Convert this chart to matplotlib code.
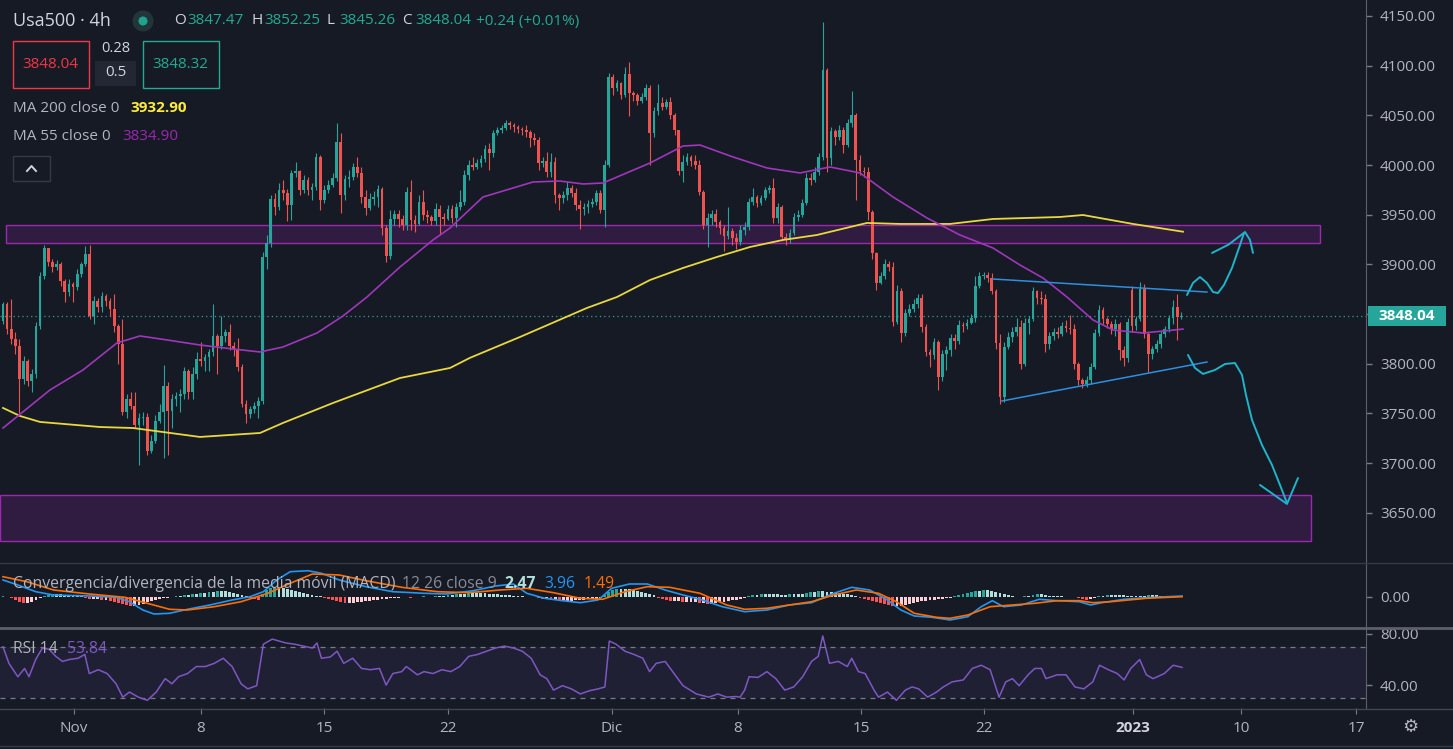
import matplotlib
matplotlib.use("Agg")
import matplotlib.pyplot as plt
import matplotlib.transforms as mtransforms
from matplotlib.patches import Rectangle, Ellipse
from matplotlib.lines import Line2D
import numpy as np

# ---------------- data (4h candles) ----------------
opens = [3843, 3860, 3835, 3825, 3818, 3785, 3803, 3783, 3790, 3838,
         3888, 3916, 3902, 3897, 3900, 3883, 3872, 3880, 3877, 3890,
         3900, 3910, 3848, 3863, 3857, 3868, 3863, 3855, 3838, 3820,
         3752, 3765, 3758, 3738, 3745, 3746, 3712, 3722, 3742, 3752,
         3778, 3753, 3765, 3768, 3770, 3793, 3772, 3790, 3805, 3803,
         3807, 3812, 3828, 3818, 3828, 3832, 3818, 3815, 3797, 3760,
         3749, 3755, 3758, 3763, 3907, 3922, 3966, 3958, 3975, 3972,
         3960, 3992, 3994, 3975, 3985, 3975, 3978, 4008, 3965, 3975,
         3980, 3987, 4023, 3970, 3986, 3988, 3998, 3992, 3968, 3957,
         3966, 3968, 3976, 3937, 3908, 3946, 3951, 3946, 3940, 3973,
         3945, 3941, 3963, 3950, 3948, 3944, 3956, 3948, 3946, 3956,
         3947, 3958, 3963, 3990, 4000, 3998, 4002, 4006, 4016, 4012,
         4032, 4035, 4037, 4042, 4040, 4038, 4036, 4035, 4033, 4027,
         4025, 4002, 4004, 3993, 4003, 3970, 3967, 3970, 3977, 3972,
         3960, 3956, 3958, 3961, 3963, 3972, 3955, 4000, 4089, 4077,
         4082, 4070, 4092, 4072, 4070, 4064, 4068, 4077, 4032, 4054,
         4062, 4058, 4063, 4050, 4035, 3994, 4003, 4008, 4004, 4000,
         3973, 3940, 3947, 3951, 3943, 3937, 3929, 3934, 3927, 3923,
         3935, 3938, 3963, 3968, 3962, 3967, 3975, 3977, 3947, 3958,
         3928, 3925, 3932, 3948, 3950, 3962, 3987, 3985, 3993, 4008,
         4096, 4007, 4034, 4028, 4035, 4020, 4042, 4050, 4005, 3994,
         3993, 3953, 3911, 3881, 3888, 3900, 3897, 3842, 3873, 3831,
         3851, 3855, 3860, 3866, 3837, 3812, 3809, 3822, 3787, 3810,
         3814, 3826, 3823, 3839, 3838, 3841, 3846, 3878, 3888, 3889,
         3886, 3873, 3821, 3767, 3817, 3827, 3832, 3837, 3800, 3841,
         3845, 3873, 3866, 3865, 3820, 3828, 3832, 3830, 3838, 3836,
         3835, 3800, 3784, 3780, 3784, 3797, 3831, 3854, 3845, 3840,
         3835, 3840, 3814, 3806, 3874, 3838, 3845, 3875, 3830, 3810,
         3815, 3820, 3830, 3835, 3846, 3857, 3847.47]
highs = [3862, 3862, 3865, 3832, 3825, 3808, 3805, 3795, 3842, 3892,
         3920, 3917, 3905, 3904, 3902, 3885, 3885, 3882, 3895, 3902,
         3919, 3920, 3868, 3866, 3872, 3870, 3866, 3870, 3840, 3845,
         3770, 3772, 3772, 3750, 3752, 3750, 3728, 3748, 3760, 3799,
         3782, 3770, 3772, 3775, 3797, 3795, 3797, 3812, 3822, 3810,
         3815, 3860, 3830, 3848, 3835, 3840, 3822, 3826, 3800, 3764,
         3758, 3762, 3767, 3912, 3930, 3970, 3972, 3982, 3985, 3976,
         3995, 4003, 3995, 3990, 3988, 3982, 4012, 4010, 3980, 3985,
         3992, 4042, 4032, 3990, 3995, 4002, 4008, 3998, 3975, 3972,
         3974, 3980, 3978, 3940, 3955, 3955, 3955, 3950, 3978, 3985,
         3950, 3970, 3975, 3955, 3950, 3962, 3960, 3952, 3960, 3960,
         3962, 3975, 3995, 4005, 4008, 4006, 4010, 4020, 4022, 4035,
         4038, 4040, 4045, 4044, 4042, 4040, 4038, 4040, 4035, 4032,
         4028, 4008, 4013, 4012, 4008, 3972, 3974, 3983, 3980, 3977,
         3965, 3962, 3965, 3967, 3975, 3975, 4005, 4093, 4092, 4086,
         4084, 4099, 4104, 4074, 4072, 4072, 4081, 4080, 4058, 4081,
         4068, 4066, 4068, 4052, 4035, 4010, 4012, 4010, 4010, 4005,
         3975, 3952, 3955, 3956, 3945, 3940, 3958, 3937, 3932, 3940,
         3943, 3967, 3977, 3970, 3970, 3978, 3980, 3987, 3962, 3960,
         3932, 3936, 3952, 3955, 3966, 3992, 3992, 3998, 4012, 4144,
         4098, 4038, 4036, 4040, 4038, 4046, 4074, 4052, 4010, 3998,
         3998, 3955, 3912, 3892, 3905, 3903, 3902, 3879, 3876, 3855,
         3860, 3865, 3870, 3870, 3840, 3815, 3826, 3824, 3814, 3818,
         3830, 3830, 3844, 3842, 3845, 3850, 3888, 3892, 3892, 3892,
         3891, 3875, 3830, 3822, 3832, 3837, 3846, 3844, 3846, 3848,
         3877, 3874, 3873, 3870, 3832, 3836, 3837, 3842, 3844, 3849,
         3840, 3802, 3786, 3788, 3801, 3835, 3859, 3857, 3847, 3843,
         3845, 3842, 3818, 3846, 3878, 3848, 3882, 3880, 3832, 3818,
         3824, 3833, 3838, 3849, 3864, 3870, 3852.25]
lows = [3840, 3830, 3820, 3810, 3750, 3780, 3778, 3772, 3786, 3835,
        3885, 3898, 3892, 3894, 3878, 3862, 3868, 3862, 3874, 3887,
        3898, 3845, 3840, 3852, 3852, 3858, 3848, 3832, 3800, 3748,
        3745, 3755, 3735, 3698, 3738, 3708, 3710, 3720, 3740, 3705,
        3708, 3735, 3758, 3752, 3765, 3765, 3765, 3785, 3798, 3793,
        3793, 3808, 3790, 3815, 3822, 3814, 3808, 3793, 3757, 3740,
        3745, 3750, 3745, 3760, 3895, 3918, 3950, 3955, 3965, 3944,
        3945, 3988, 3970, 3972, 3970, 3965, 3975, 3955, 3962, 3972,
        3978, 3984, 3952, 3965, 3978, 3985, 3988, 3962, 3950, 3955,
        3960, 3958, 3930, 3902, 3905, 3940, 3938, 3935, 3935, 3935,
        3933, 3940, 3945, 3942, 3940, 3940, 3930, 3940, 3945, 3942,
        3938, 3955, 3960, 3985, 3995, 3996, 3998, 4003, 3995, 4008,
        4030, 4032, 4035, 4036, 4033, 4032, 4030, 4028, 4018, 4020,
        3995, 3998, 3988, 3988, 3962, 3955, 3962, 3965, 3968, 3955,
        3936, 3950, 3952, 3958, 3960, 3952, 3938, 3998, 4070, 4074,
        4066, 4068, 4049, 4064, 4060, 4062, 4065, 4000, 4028, 4050,
        4055, 4056, 4046, 4030, 3990, 3983, 4000, 3999, 3996, 3970,
        3936, 3918, 3940, 3938, 3931, 3913, 3926, 3920, 3915, 3920,
        3930, 3935, 3960, 3958, 3960, 3965, 3972, 3942, 3942, 3924,
        3920, 3922, 3930, 3944, 3948, 3960, 3980, 3983, 3990, 4005,
        3993, 4000, 4020, 4025, 4012, 4018, 4038, 3965, 3990, 3988,
        3945, 3905, 3874, 3880, 3885, 3893, 3838, 3840, 3822, 3828,
        3848, 3852, 3856, 3832, 3808, 3797, 3805, 3774, 3783, 3794,
        3808, 3815, 3820, 3832, 3835, 3840, 3842, 3876, 3885, 3882,
        3870, 3815, 3760, 3762, 3815, 3822, 3828, 3795, 3798, 3830,
        3843, 3860, 3860, 3812, 3815, 3824, 3826, 3828, 3832, 3830,
        3795, 3779, 3776, 3777, 3780, 3795, 3828, 3840, 3836, 3830,
        3828, 3804, 3798, 3802, 3832, 3834, 3843, 3826, 3792, 3805,
        3812, 3816, 3827, 3832, 3840, 3824, 3845.26]
closes = [3860, 3835, 3825, 3818, 3785, 3803, 3783, 3790, 3838, 3888,
          3916, 3902, 3897, 3900, 3883, 3872, 3880, 3877, 3890, 3900,
          3910, 3848, 3863, 3857, 3868, 3863, 3855, 3838, 3820, 3752,
          3765, 3758, 3738, 3745, 3746, 3712, 3722, 3742, 3752, 3778,
          3753, 3765, 3768, 3770, 3793, 3772, 3790, 3805, 3803, 3807,
          3812, 3828, 3818, 3828, 3832, 3818, 3815, 3797, 3760, 3749,
          3755, 3758, 3763, 3907, 3922, 3966, 3958, 3975, 3972, 3960,
          3992, 3994, 3975, 3985, 3975, 3978, 4008, 3965, 3975, 3980,
          3987, 4023, 3970, 3986, 3988, 3998, 3992, 3968, 3957, 3966,
          3968, 3976, 3937, 3908, 3946, 3951, 3946, 3940, 3973, 3945,
          3941, 3963, 3950, 3948, 3944, 3956, 3948, 3946, 3956, 3947,
          3958, 3963, 3990, 4000, 3998, 4002, 4006, 4016, 4012, 4032,
          4035, 4037, 4042, 4040, 4038, 4036, 4035, 4033, 4027, 4025,
          4002, 4004, 3993, 4003, 3970, 3967, 3970, 3977, 3972, 3960,
          3956, 3958, 3961, 3963, 3972, 3955, 4000, 4089, 4077, 4082,
          4070, 4092, 4072, 4070, 4064, 4068, 4077, 4032, 4054, 4062,
          4058, 4063, 4050, 4035, 3994, 4003, 4008, 4004, 4000, 3973,
          3940, 3947, 3951, 3943, 3937, 3929, 3934, 3927, 3923, 3935,
          3938, 3963, 3968, 3962, 3967, 3975, 3977, 3947, 3958, 3928,
          3925, 3932, 3948, 3950, 3962, 3987, 3985, 3993, 4008, 4096,
          4007, 4034, 4028, 4035, 4020, 4042, 4050, 4005, 3994, 3993,
          3953, 3911, 3881, 3888, 3900, 3897, 3842, 3873, 3831, 3851,
          3855, 3860, 3866, 3837, 3812, 3809, 3822, 3787, 3810, 3814,
          3826, 3823, 3839, 3838, 3841, 3846, 3878, 3888, 3889, 3886,
          3873, 3821, 3767, 3817, 3827, 3832, 3837, 3800, 3841, 3845,
          3873, 3866, 3865, 3820, 3828, 3832, 3830, 3838, 3836, 3835,
          3800, 3784, 3780, 3784, 3797, 3831, 3854, 3845, 3840, 3835,
          3840, 3814, 3806, 3842, 3838, 3845, 3875, 3830, 3810, 3815,
          3820, 3830, 3835, 3846, 3857, 3847, 3848.04]

# moving averages (bar position, price)
ma200_x = [0, 4.13, 8.98, 23.54, 31.55, 47.82, 62.38, 67.96, 80.10, 96.36,
           108.50, 113.35, 125.49, 141.75, 149.03, 157.04, 165.05, 173.30, 181.31, 189.32,
           197.57, 205.58, 209.71, 217.72, 229.85, 240.29, 256.55, 262.14, 274.27, 286.41]
ma200_y = [3755.6, 3747.5, 3741.5, 3736.4, 3735.4, 3726.4, 3730.4, 3740.5, 3760.6, 3785.7,
           3795.8, 3806.0, 3827.0, 3856.2, 3867.2, 3884.3, 3896.4, 3907.5, 3917.5, 3924.6,
           3929.6, 3937.6, 3941.7, 3940.7, 3940.7, 3945.7, 3947.7, 3949.7, 3940.7, 3932.9]
ma55_x = [0, 11.41, 19.42, 27.67, 33.25, 39.81, 47.82, 55.83, 62.38, 67.96,
          76.21, 82.52, 88.35, 96.36, 104.37, 108.50, 116.50, 128.64, 135.19, 140.78,
          145.63, 157.04, 165.05, 169.17, 177.18, 185.44, 193.45, 200.73, 208.01, 216.02,
          224.27, 232.28, 240.29, 246.84, 252.43, 258.25, 264.56, 269.42, 276.70, 286.41]
ma55_y = [3735.4, 3773.7, 3793.8, 3821.0, 3828.0, 3824.0, 3818.9, 3814.9, 3811.9, 3816.9,
          3831.0, 3848.1, 3867.2, 3897.4, 3924.6, 3936.6, 3967.8, 3982.9, 3983.9, 3980.9,
          3981.9, 4002.0, 4019.1, 4020.1, 4008.1, 3997.0, 3992.0, 3998.0, 3992.0, 3967.8,
          3946.7, 3929.6, 3916.5, 3899.4, 3886.3, 3867.2, 3844.1, 3834.0, 3831.0, 3834.9]

# MACD (12, 26, 9)
macd_hist = [1, 0,
             -1, -3, -5, -6, -6, -5, -3, -1,
             1, 2, 3, 3, 3, 2, 2, 2, 1, 1,
             -1, -2, -2, -2, -3, -3,
             -4, -5, -6, -7, -8, -9, -9, -8, -7, -5,
             -4, -3, -2, -1, -1, 0, 1,
             1, 2, 2, 3, 3, 4, 4, 5, 5, 6, 6, 6, 5, 4, 3, 2, 1,
             -1, -2, -3,
             3, 7, 9, 10, 10, 9, 8, 7, 6, 5, 4, 3, 2, 1, 1,
             -1, -2, -3, -4, -5, -6, -6, -6, -5, -5, -4, -4, -3, -3, -2, -2, -1, -1, -1, 0,
             0, -1, 0, 0, 1, 0, 0, 1, 1, 1,
             2, 2, 3, 3, 3, 4, 4, 4, 4, 4, 3, 3, 3, 2, 2, 2,
             1, 1, 1, 0, 0, 0,
             -1, -2, -2, -3, -3, -4, -4, -4, -4, -3, -3, -3, -2, -2, -2, -1,
             2, 5, 7, 8, 8, 8, 8, 7, 6, 5, 4, 3, 2,
             -1, -2, -3, -4, -4, -4, -5, -5, -5, -5, -6,
             -6, -7, -7, -6, -5, -5, -4, -3, -3, -2, -1,
             1, 2, 2, 3, 3, 3, 3, 3, 2, 2, 3, 3, 3, 3,
             4, 5, 5, 6, 6, 5, 5, 4, 4, 3, 3, 2, 1,
             -1, -2, -3, -4, -5, -6, -7, -8, -9, -9, -9, -8, -7, -6,
             -5, -4, -4, -3, -3, -2, -2, -1, -1,
             1, 2, 3, 4, 5, 6, 6, 7, 7, 6, 5, 4,
             3, 2, 1, 0, 0, 1, 1,
             2, 3, 3, 2,
             1, 1, 1, 1, 0, 0, 0,
             -1, -2, -3, -2, -1,
             1, 1, 2, 2, 2, 2, 2, 1, 1, 1, 1, 1, 2, 2, 2, 1, 1, 1, 1, 1, 1]
macd_x = [0, 3.6, 7.94, 12.27, 20.94, 27.44, 30.69, 33.94, 36.65, 40.44,
          44.78, 50.2, 55.61, 59.95, 63.2, 66.45, 69.7, 74.03, 77.29, 81.62,
          88.12, 94.62, 102.2, 107.62, 114.12, 119.54, 123.88, 127.13, 131.46, 135.8,
          140.13, 144.46, 147.72, 152.05, 156.38, 160.72, 165.05, 169.17,
          174.59, 180.01, 185.42, 190.84, 196.26, 201.68, 206.01, 210.35, 214.68, 217.93,
          221.18, 225.51, 229.85, 234.18, 237.43, 240.14, 242.85, 247.19, 251.52, 255.85,
          261.27, 263.98, 266.69, 272.11, 277.52, 286.19]
macd_y = [17, 12, 5.3, 2, 1, -0.3, -4.7, -13, -17, -16.3,
          -12.3, -8, -3, 0.3, 5.3, 17, 25.3, 26.3, 23.7, 17,
          10.3, 5.3, 3.7, 3, 6.3, 11, 13, 3.7, -1.3, -3.7,
          -5.7, -3, 8.7, 13, 13, 7, 2, -2.3,
          -9.7, -14.7, -13, -8, -5.7, 3.7, 9.7, 7, -3, -13,
          -19, -20.3, -23, -19.7, -9.7, -3.7, -9.7, -8, -2.3, -3.7,
          -4.7, -8, -5.7, -2.3, -0.7, 1]
signal_x = [0, 5.77, 12.27, 20.94, 29.61, 35.03, 40.44, 44.78, 51.28, 57.78,
            64.28, 69.7, 75.12, 81.62, 88.12, 96.79, 105.46, 113.04, 120.63, 127.13,
            133.63, 140.13, 145.55, 150.97, 156.38, 161.8, 169.17,
            175.67, 180.01, 185.42, 190.84, 196.26, 201.68, 207.09, 212.51, 216.85, 221.18,
            226.6, 229.85, 234.18, 239.6, 245.02, 250.44, 255.85, 261.27, 264.52, 268.86,
            277.52, 286.19]
signal_y = [20.3, 15.3, 7, 3, -0.3, -6.3, -12.3, -13, -9.7, -4.7,
            3.7, 13.7, 23, 22, 16.3, 9.7, 5.3, 4.3, 7, 8.7,
            4.3, -1.3, -2.3, 5.3, 10.3, 9.7, 3.7,
            -8, -12.3, -11.3, -8, -4.7, 2, 7, 3.7, -4.7, -16.3,
            -20.3, -21.3, -18, -9.7, -8, -6.3, -3.7, -3.7, -5.7, -4.7,
            -1.3, 0.3]

# RSI 14
rsi_x = [0, 1.44, 3.6, 5.23, 6.31, 7.94, 9.56, 11.19, 12.81, 14.44,
         16.06, 18.23, 19.86, 20.94, 23.11, 25.28, 27.44, 29.07, 30.69, 32.86,
         35.03, 37.19, 39.36, 40.99, 42.61, 44.78, 46.95, 49.11, 51.28, 53.45,
         55.61, 57.78, 59.41, 61.57, 63.2, 65.37, 66.99, 68.62, 70.78, 72.95,
         75.12, 76.2, 77.29, 79.45, 81.08, 82.7, 84.87, 87.04, 89.2, 91.37,
         92.99, 94.62, 96.79, 97.87, 98.95, 100.58, 102.2, 104.37, 106.54, 108.71,
         110.87, 113.04, 115.21, 117.38, 119.54, 121.71, 123.88, 126.05, 128.21, 130.38,
         132.0, 133.63, 135.8, 137.96, 140.13, 142.3, 144.46, 146.09, 147.17, 148.8,
         150.97, 153.13, 155.3, 156.93, 158.55, 160.72, 162.89, 165.05, 168.3,
         171.34, 173.5, 175.67, 177.84, 178.92, 180.01, 181.09, 183.26, 185.42, 187.59,
         189.76, 191.92, 194.09, 196.26, 197.88, 198.97, 200.59, 202.76, 204.93, 206.01,
         207.64, 209.26, 211.43, 212.51, 214.68, 216.85, 219.01, 220.64, 222.26, 224.43,
         226.6, 228.22, 230.39, 233.1, 235.27, 237.43, 239.6, 241.77, 243.39, 245.02,
         246.64, 248.81, 250.44, 252.06, 253.15, 255.85, 258.02, 260.19, 262.35, 264.52,
         266.15, 268.31, 270.48, 272.11, 273.73, 275.9, 277.52, 279.15, 281.86, 284.02,
         286.19]
rsi_y = [70, 57, 46.5, 53, 46.5, 60, 69, 68, 62.5, 58.5,
         60, 61, 64, 49, 52, 49, 41, 30.5, 34.5, 30.5,
         28, 34.5, 45, 41, 46.5, 49, 54.5, 54.5, 57, 61,
         54.5, 41, 37, 39.5, 72, 76, 74.5, 73, 72, 70.5,
         69, 73, 61, 62, 66.5, 57, 61, 53, 52, 53,
         40, 49, 50.5, 54.5, 52, 48, 50.5, 49, 52, 50.5,
         54.5, 62.5, 64, 66.5, 69, 70.5, 69, 66.5, 61, 48,
         45, 36, 39.5, 37, 33, 35.5, 37, 38.5, 74.5, 72,
         66.5, 64, 61, 50.5, 57, 58.5, 49, 39.5, 33,
         30.5, 33, 30.5, 31, 30.5, 36, 46.5, 46, 50.5, 45,
         36, 38.5, 46.5, 58.5, 62.5, 78.5, 57, 58.5, 54.5, 61,
         50.5, 49, 36, 30.5, 34.5, 28, 36, 38.5, 37, 30.5,
         34.5, 38.5, 42.5, 44, 53, 55.5, 52, 30.5, 42.5, 45,
         39.5, 48, 53, 53, 45, 48, 48, 38.5, 37, 42.5,
         55.5, 52, 49, 44, 53, 60, 48, 45, 49, 55.5,
         53.84]

# zones and drawings (bar position, price)
resist_zone = (0.73, 319.66, 3921.6, 3939.7)
support_zone = (-0.73, 317.48, 3622.0, 3668.0)
tri_upper_x = [240.29, 292.23]
tri_upper_y = [3885.3, 3872.2]
tri_lower_x = [242.48, 292.23]
tri_lower_y = [3762.6, 3801.8]
up_path_x = [287.38, 288.83, 290.53, 292.23, 293.69, 294.90, 296.36, 298.30, 300.24, 301.21]
up_path_y = [3869.2, 3881.3, 3887.3, 3881.3, 3872.2, 3871.2, 3879.3, 3896.4, 3919.5, 3931.6]
up_head_x = [293.45, 297.5, 301.46, 302.67, 303.40]
up_head_y = [3911.5, 3920.0, 3932.6, 3924.6, 3911.5]
down_path_x = [287.62, 289.32, 291.26, 294.17, 296.60, 299.03, 300.73, 301.70, 303.16,
               305.58, 308.01, 309.95, 311.65]
down_path_y = [3808.9, 3795.8, 3789.8, 3793.8, 3799.8, 3800.8, 3788.8, 3768.6, 3743.5,
               3718.3, 3698.2, 3678.1, 3660.0]
down_head_x = [305.10, 311.65, 314.32]
down_head_y = [3678.1, 3659.0, 3685.1]

price_ticks = [3650, 3700, 3750, 3800, 3850, 3900, 3950, 4000, 4050, 4100, 4150]
date_pos = [17.23, 48.06, 77.91, 108.01, 147.82, 178.40, 208.25, 238.11, 274.27, 300.49, 328.40]
date_labels = ["Nov", "8", "15", "22", "Dic", "8", "15", "22", "2023", "10", "17"]

# ---------------- styling ----------------
W, H = 1453, 749
BG = "#161a25"
UP, DN = "#26a69a", "#ef5350"
TXT = "#b2b5be"
FONT = ["Open Sans", "DejaVu Sans"]
XMIN, XMAX = -0.728, 330.83

fig = plt.figure(figsize=(W / 100, H / 100), dpi=100)
fig.patch.set_facecolor(BG)


def frect(x0, y0, x1, y1):
    return [x0 / W, 1 - y1 / H, (x1 - x0) / W, (y1 - y0) / H]


def T(x, y, s, color, size, weight="normal", ha="left", family=None):
    fig.text(x / W, 1 - y / H, s, color=color, fontsize=size, fontweight=weight,
             ha=ha, va="center", family=family or FONT)


ax = fig.add_axes(frect(0, 0, 1366, 562))
axm = fig.add_axes(frect(0, 563, 1366, 627))
axr = fig.add_axes(frect(0, 628, 1366, 708))

for a in (ax, axm, axr):
    a.set_facecolor(BG)
    for s in a.spines.values():
        s.set_visible(False)
    a.spines["right"].set_visible(True)
    a.spines["right"].set_color("#5d606b")
    a.yaxis.tick_right()
    a.tick_params(axis="y", color="#787b86", labelcolor=TXT, length=4, pad=6,
                  labelsize=11, width=1)
    a.set_xlim(XMIN, XMAX)

ax.tick_params(axis="x", bottom=False, labelbottom=False)
axm.tick_params(axis="x", bottom=False, labelbottom=False)

# ---- main price panel ----
ax.set_ylim(3600.6, 4166.0)
for (x0, x1, p0, p1) in (resist_zone, support_zone):
    ax.add_patch(Rectangle((x0, p0), x1 - x0, p1 - p0,
                           facecolor=(156 / 255, 39 / 255, 176 / 255, 0.2),
                           edgecolor="#9c27b0", linewidth=1.0, zorder=1))

idx = np.arange(len(closes))
o = np.array(opens, float)
c = np.array(closes, float)
col = np.where(c >= o, UP, DN)
ax.vlines(idx, lows, highs, colors=col, linewidth=0.8, zorder=3)
ax.bar(idx, np.maximum(np.abs(c - o), 0.7), bottom=np.minimum(o, c), width=0.66,
       color=col, linewidth=0, zorder=4)

ax.plot(ma200_x, ma200_y, color="#e9d83c", linewidth=1.3, zorder=5,
        solid_joinstyle="round")
ax.plot(ma55_x, ma55_y, color="#9f36bb", linewidth=1.2, zorder=5,
        solid_joinstyle="round")

ax.plot(tri_upper_x, tri_upper_y, color="#2e8ee0", linewidth=1.1, zorder=6)
ax.plot(tri_lower_x, tri_lower_y, color="#2e8ee0", linewidth=1.1, zorder=6)
for xs, ys in ((up_path_x, up_path_y), (up_head_x, up_head_y),
               (down_path_x, down_path_y), (down_head_x, down_head_y)):
    ax.plot(xs, ys, color="#1db4cc", linewidth=1.4, zorder=6,
            solid_capstyle="round", solid_joinstyle="round")

last = closes[-1]
ax.axhline(last, color=UP, linewidth=0.9, linestyle=(0, (1, 2.5)), zorder=2)

ax.set_yticks(price_ticks)
ax.set_yticklabels([f"{v:.2f}" for v in price_ticks], family=FONT)

trans = mtransforms.blended_transform_factory(ax.transAxes, ax.transData)
ax.add_patch(Rectangle((1 + 2 / 1366, last - 10.05), 78 / 1366, 20.1, transform=trans,
                       facecolor=UP, edgecolor="none", clip_on=False, zorder=10))
ax.text(1 + 41 / 1366, last, f"{last:.2f}", transform=trans, ha="center", va="center",
        color="white", fontsize=11, fontweight="bold", family=FONT, clip_on=False, zorder=11)

# ---- MACD panel ----
axm.set_ylim(-30, 34)
hist = np.array(macd_hist, float)
prev = np.concatenate([[0.0], hist[:-1]])
hcol = np.where(hist >= 0, np.where(hist > prev, "#26a69a", "#b2dfdb"),
                np.where(hist < prev, "#ff5252", "#ffcdd2"))
axm.bar(np.arange(len(hist)), hist, width=0.7, color=hcol, linewidth=0, zorder=2)
axm.plot(macd_x, macd_y, color="#2196f3", linewidth=1.2, zorder=3)
axm.plot(signal_x, signal_y, color="#ff6d00", linewidth=1.2, zorder=3)
axm.set_yticks([0])
axm.set_yticklabels(["0.00"], family=FONT)

# ---- RSI panel ----
axr.set_ylim(22.0, 84.7)
axr.axhspan(30, 70, color=(126 / 255, 87 / 255, 194 / 255, 0.1), zorder=1, linewidth=0)
for lvl in (70, 30):
    axr.axhline(lvl, color="#787b86", linewidth=0.9, linestyle=(0, (4, 4)), zorder=2)
axr.plot(rsi_x, rsi_y, color="#7e57c2", linewidth=1.1, zorder=3)
axr.set_yticks([40, 80])
axr.set_yticklabels(["40.00", "80.00"], family=FONT)

axr.set_xticks(date_pos)
axr.set_xticklabels(date_labels, family=FONT)
axr.tick_params(axis="x", bottom=True, labelbottom=True, direction="out", length=4,
                color="#787b86", labelcolor=TXT, labelsize=11, pad=5.5)
for lab in axr.get_xticklabels():
    if lab.get_text() == "2023":
        lab.set_fontweight("bold")
        lab.set_color("#d1d4dc")

# separators
for yy, cc, lw in ((562.5, "#363a45", 1.0), (627.5, "#5d606b", 2.0),
                   (708.5, "#434651", 1.0), (745.5, "#363a45", 1.0)):
    fig.add_artist(Line2D([0, 1], [1 - yy / H, 1 - yy / H], transform=fig.transFigure,
                          color=cc, linewidth=lw))

T(1410, 727, "\u2699", TXT, 13, ha="center", family=["DejaVu Sans", "Noto Sans"])

# ---- header / legends ----
T(13, 21, "Usa500 \u00b7 4h", "#d1d4dc", 13)
fig.add_artist(Ellipse((143 / W, 1 - 21 / H), 21 / W, 21 / H, transform=fig.transFigure,
                       facecolor="#22363a", edgecolor="none"))
fig.add_artist(Ellipse((143 / W, 1 - 21 / H), 9 / W, 9 / H, transform=fig.transFigure,
                       facecolor="#1fa38f", edgecolor="none"))
for x, s, cc in ((174, "O", "#d1d4dc"), (187, "3847.47", "#22ab94"),
                 (251, "H", "#d1d4dc"), (264, "3852.25", "#22ab94"),
                 (327, "L", "#d1d4dc"), (339, "3845.26", "#22ab94"),
                 (402, "C", "#d1d4dc"), (415, "3848.04", "#22ab94"),
                 (476, "+0.24 (+0.01%)", "#22ab94")):
    T(x, 21, s, cc, 11)

fig.add_artist(Rectangle((12.5 / W, 1 - 87.5 / H), 76 / W, 46.5 / H, transform=fig.transFigure,
                         facecolor=BG, edgecolor="#f23645", linewidth=1.0))
T(50.5, 64, "3848.04", "#f23645", 11, ha="center")
fig.add_artist(Rectangle((142.5 / W, 1 - 87.5 / H), 76 / W, 46.5 / H, transform=fig.transFigure,
                         facecolor=BG, edgecolor="#22ab94", linewidth=1.0))
T(180.5, 64, "3848.32", "#22ab94", 11, ha="center")
T(116, 48, "0.28", "#d1d4dc", 10.5, ha="center")
fig.add_artist(Rectangle((95 / W, 1 - 86 / H), 41 / W, 25 / H, transform=fig.transFigure,
                         facecolor="#232733", edgecolor="none"))
T(115.5, 73, "0.5", "#d1d4dc", 11, ha="center")

T(13, 108, "MA 200 close 0", TXT, 11)
T(130, 108, "3932.90", "#ffeb3b", 11, weight="bold")
T(13, 137, "MA 55 close 0", TXT, 11)
T(122, 137, "3834.90", "#9c27b0", 11)

fig.add_artist(Rectangle((13 / W, 1 - 180.5 / H), 37 / W, 24 / H, transform=fig.transFigure,
                         facecolor=BG, edgecolor="#363a45", linewidth=1.0))
fig.add_artist(Line2D([27 / W, 31.5 / W, 36 / W], [1 - 171 / H, 1 - 166 / H, 1 - 171 / H],
                      transform=fig.transFigure, color="#d1d4dc", linewidth=1.4))

T(13, 584, "Convergencia/divergencia de la media m\u00f3vil (MACD)", TXT, 11.3)
T(402, 584, "12 26 close 9", "#8a8d96", 11.3)
T(504, 584, "2.47", "#b2dfdb", 11.3, weight="bold")
T(544, 584, "3.96", "#2196f3", 11.3)
T(584, 584, "1.49", "#ff6d00", 11.3)

T(13, 649, "RSI 14", TXT, 11.3)
T(67, 649, "53.84", "#7e57c2", 11.3)

fig.savefig("out.png", dpi=100, facecolor=BG)
